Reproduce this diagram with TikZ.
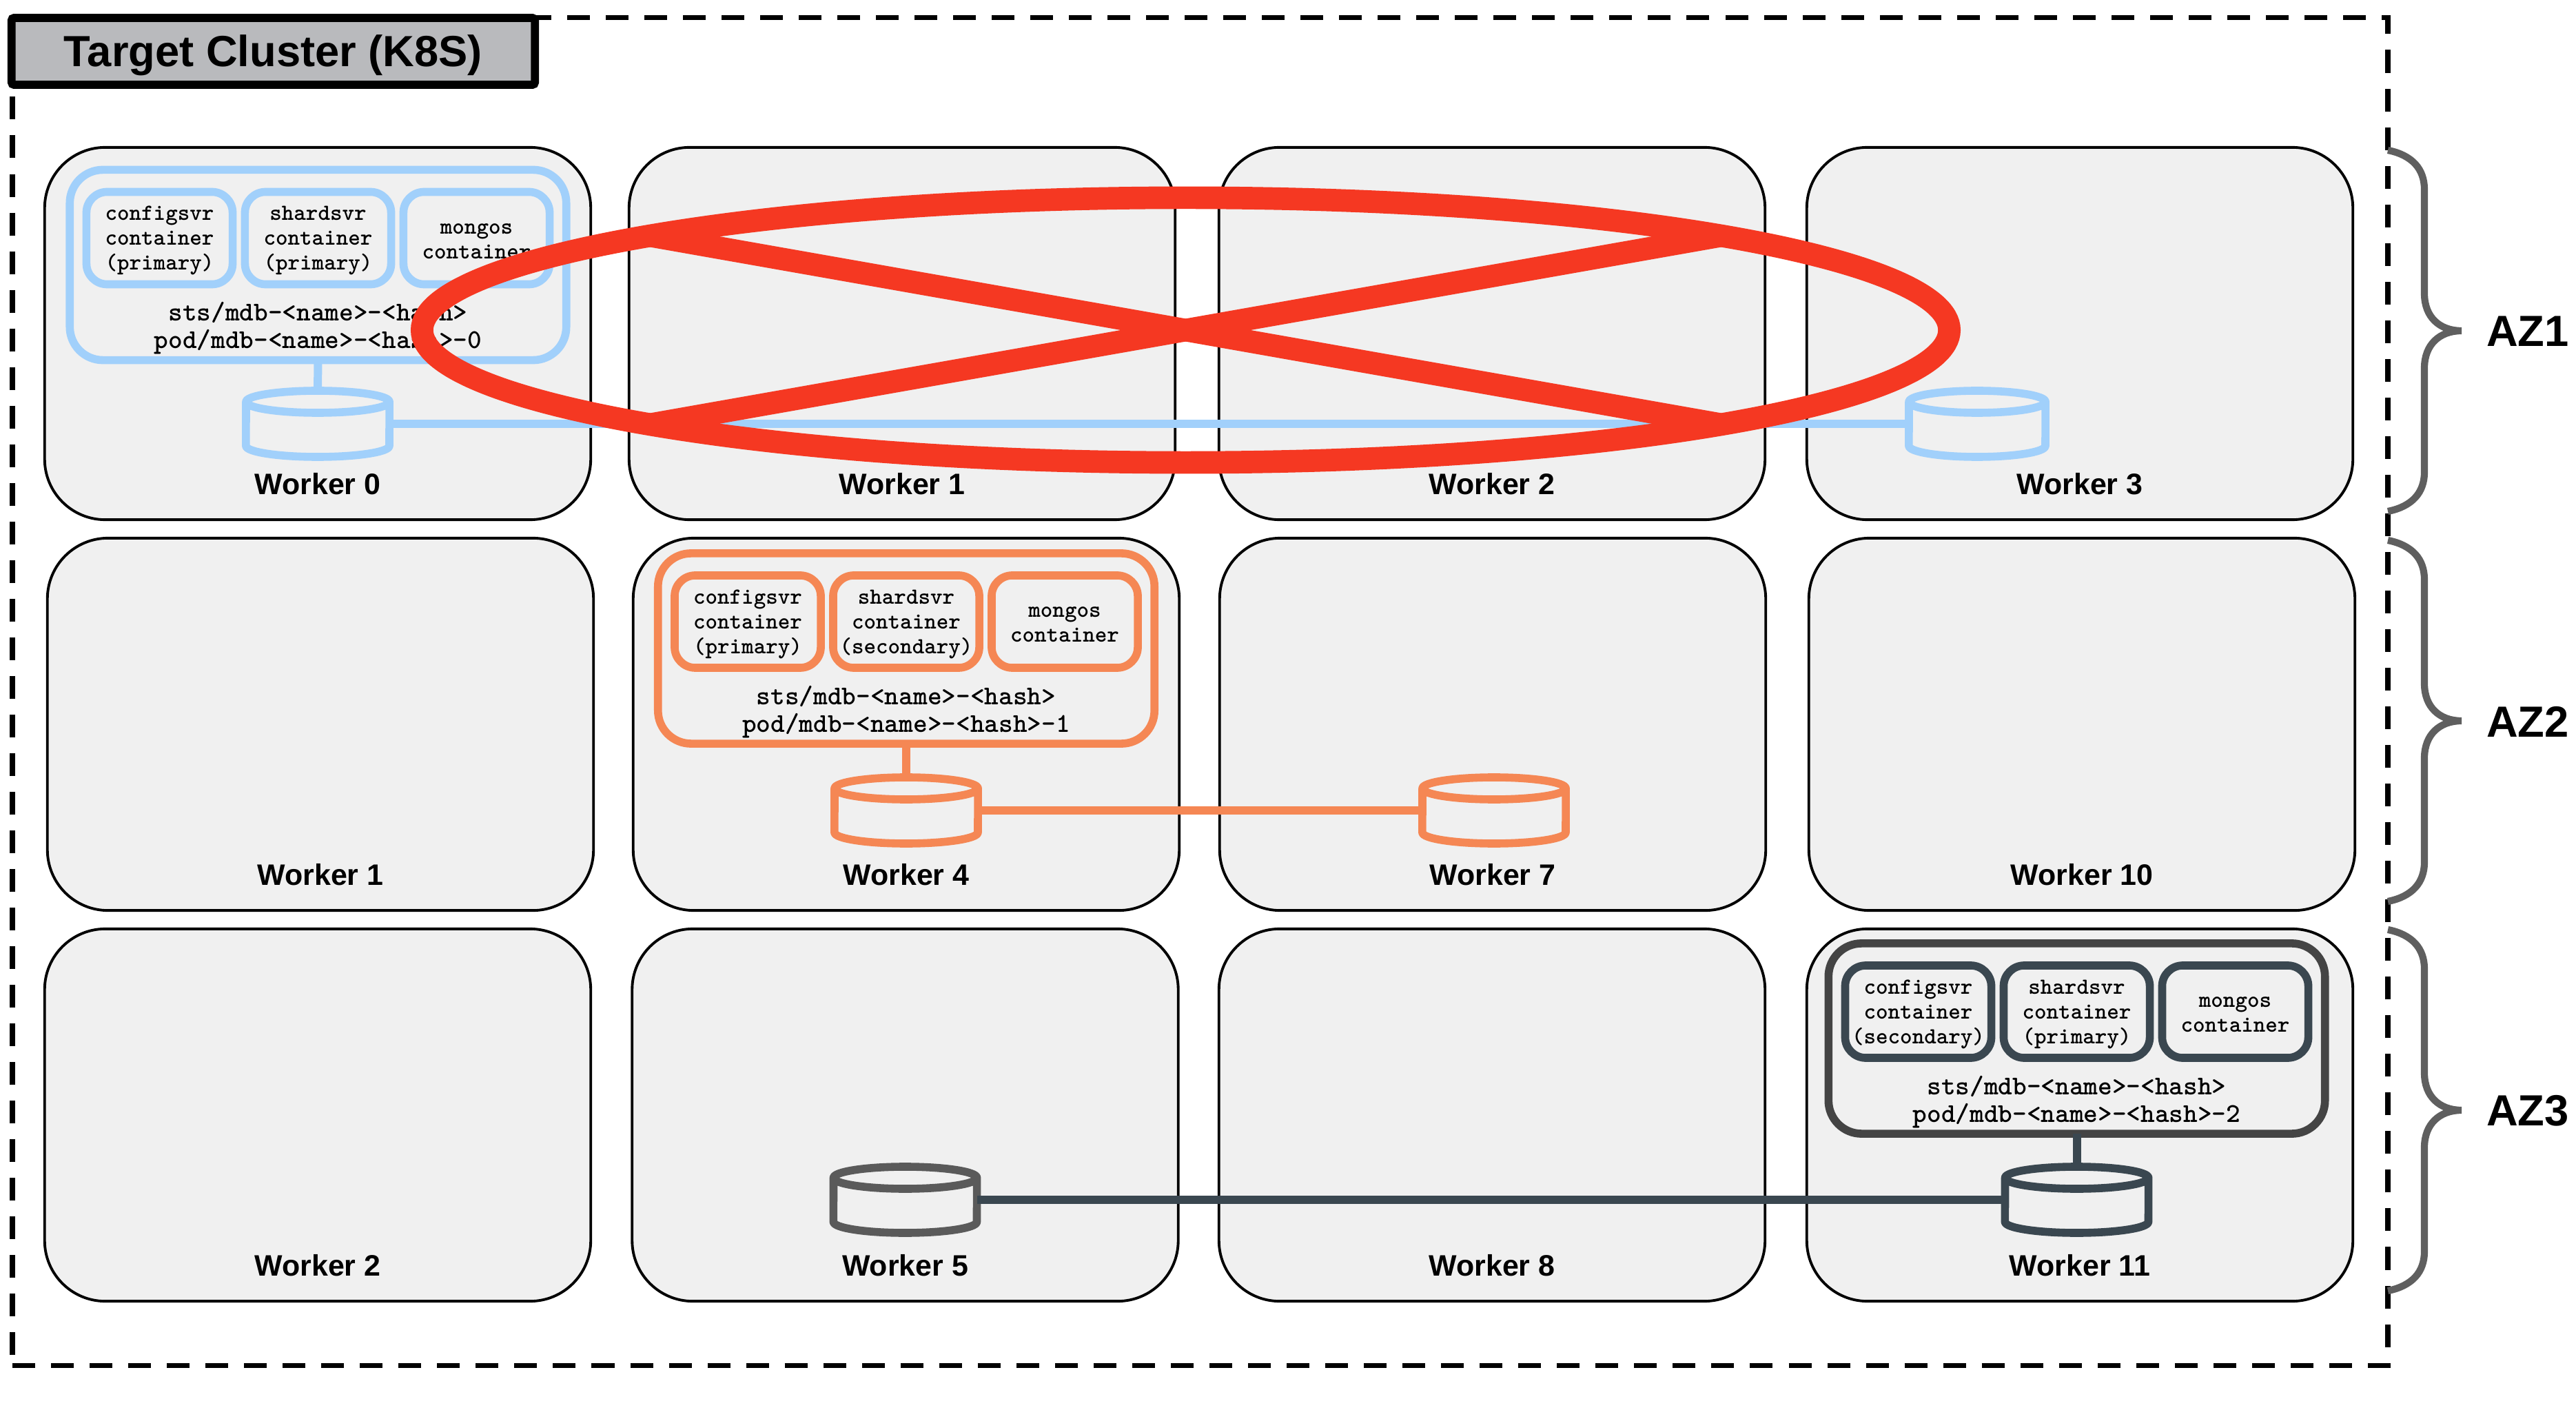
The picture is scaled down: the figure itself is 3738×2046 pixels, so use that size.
\documentclass[tikz,border=0pt]{standalone}
\usepackage{fontspec}
\setmainfont{Liberation Sans}
\usetikzlibrary{shapes.geometric}

\definecolor{azblue}{HTML}{A1D0FB}
\definecolor{azorange}{HTML}{F58754}
\definecolor{azslate}{HTML}{3A4750}
\definecolor{azdark}{HTML}{444444}
\definecolor{azgray}{HTML}{5A5A5A}
\definecolor{azbrace}{HTML}{5F5F5F}
\definecolor{crossred}{HTML}{F53822}
\definecolor{titlegray}{HTML}{B9BABD}

\tikzset{
	clusterbox/.style={draw,line width=2.2pt,dash pattern=on .33cm off .23cm,minimum width=34.45cm,minimum height=19.55cm,inner sep=0pt,outer sep=0pt},
	titlebox/.style={draw,fill=titlegray,line width=3.3pt,rounded corners=1pt,minimum width=7.59cm,minimum height=.97cm,inner sep=0pt,text height=12.8pt,text depth=0pt,font=\bfseries\fontsize{18}{20}\selectfont},
	workerbox/.style={draw,fill=black!6,line width=1.1pt,rounded corners=.88cm,minimum width=7.92cm,minimum height=5.4cm,inner sep=0pt},
	workerlabel/.style={inner sep=0pt,font=\bfseries\fontsize{12.2}{14}\selectfont},
	podbox/.style={draw,line width=3.3pt,rounded corners=.48cm,minimum width=7.2cm,minimum height=2.76cm,inner sep=0pt,outer sep=0pt},
	ctrbox/.style={draw,line width=3.3pt,rounded corners=.3cm,minimum width=2.12cm,minimum height=1.34cm,inner sep=0pt,align=center,text depth=0pt,font=\ttfamily\bfseries\fontsize{9.5}{10.2}\selectfont},
	podtext/.style={inner sep=0pt,align=center,font=\ttfamily\bfseries\fontsize{11.2}{11.4}\selectfont},
	diskbox/.style={minimum height=.95cm,inner sep=0pt,outer sep=0pt},
	diskline/.style={fill=black!6,line width=3.3pt,line join=round},
	link/.style={line width=3.4pt},
	azgroup/.style={draw=azbrace,line width=2.9pt},
	azlabel/.style={inner sep=0pt,font=\bfseries\fontsize{18}{20}\selectfont},
}

\begin{document}
\begin{tikzpicture}[x=.01cm,y=-.01cm]
	\useasboundingbox (0,0) rectangle (3738,2046);
	%Cluster
	\node[clusterbox] (cluster) at (1741.5,1003.5) {};
	\node[titlebox] (title) at (396.5,74.5) {Target Cluster (K8S)};
	%Workers
	\foreach \wid/\wx/\wy/\wnum in {w00/461/484/0,w01/1309/484/1,w02/2165/484/2,w03/3018/484/3,
		w10/465/1051/1,w11/1315/1051/4,w12/2166/1051/7,w13/3021/1051/10,
		w20/461/1618/2,w21/1313.5/1618/5,w22/2165/1618/8,w23/3018/1618/11}{
		\node[workerbox] (\wid) at (\wx,\wy) {};
		\node[workerlabel] (\wid label) at (\wx,\wy+218) {Worker \wnum};
	}
	%Pods
	\foreach \pid/\px/\py/\pcol/\ccol/\cfgrole/\shdrole/\pnum in {a/461.5/384.5/azblue/azblue/primary/primary/0,
		b/1315/941/azorange/azorange/primary/secondary/1,
		c/3013.5/1507/azdark/azslate/secondary/primary/2}{
		\node[podbox,draw=\pcol] (pod\pid) at (\px,\py) {};
		\node[ctrbox,draw=\ccol] (cfg\pid) at (\px-230,\py-39) {configsvr\\container\\(\cfgrole)};
		\node[ctrbox,draw=\ccol] (shd\pid) at (\px,\py-39) {shardsvr\\container\\(\shdrole)};
		\node[ctrbox,draw=\ccol,text height=16.8pt] (mgs\pid) at (\px+230,\py-39) {mongos\\container};
		\node[podtext] (name\pid) at (\px,\py+92) {sts/mdb-<name>-<hash>\\pod/mdb-<name>-<hash>-\pnum};
	}
	%Disks
	\foreach \did/\dx/\dy/\dcol/\drx in {diskw0/461/615/azblue/1.04,diskw3/2869/615/azblue/.99,
		diskw4/1315/1176/azorange/1.04,diskw7/2168/1176/azorange/1.04,
		diskw5/1313.5/1741/azgray/1.04,diskw11/3013.5/1741/azslate/1.04}{
		\node[diskbox,minimum width=2*\drx cm] (\did) at (\dx,\dy) {};
		\draw[diskline,draw=\dcol,shift={(\did.center)}] (-\drx*100,-32) arc[start angle=180,end angle=0,x radius=\drx cm,y radius=.16cm]
			-- (\drx*100,32) arc[start angle=360,end angle=180,x radius=\drx cm,y radius=.16cm] -- cycle
			(-\drx*100,-32) arc[start angle=180,end angle=360,x radius=\drx cm,y radius=.16cm];
	}
	%Links
	\draw[link,azblue] (poda.south) -- (diskw0.north);
	\draw[link,azblue] (diskw0.east) -- (diskw3.west);
	\draw[link,azorange] (podb.south) -- (diskw4.north);
	\draw[link,azorange] (diskw4.east) -- (diskw7.west);
	\draw[link,azslate] (podc.south) -- (diskw11.north);
	\draw[link,azslate] (diskw5.east) -- (diskw11.west);
	%AZ braces
	\foreach \zid/\zy in {1/480,2/1046,3/1611}{
		\draw[azgroup] (3465,\zy-262) .. controls (3500,\zy-255) and (3518,\zy-235) .. (3518,\zy-205)
			-- (3518,\zy-54) .. controls (3518,\zy-20) and (3540,\zy) .. (3572,\zy)
			.. controls (3540,\zy) and (3518,\zy+20) .. (3518,\zy+54)
			-- (3518,\zy+205) .. controls (3518,\zy+235) and (3500,\zy+255) .. (3465,\zy+262);
		\node[azlabel] (az\zid) at (3668,\zy+1) {AZ\zid};
	}
	%Red cross
	\node[draw=crossred,ellipse,line width=9.3pt,minimum width=22.15cm,minimum height=3.84cm,inner sep=0pt,outer sep=0pt] (failring) at (1720.5,479) {};
	\draw[crossred,line width=9.3pt] (failring.170) -- (failring.350);
	\draw[crossred,line width=9.3pt] (failring.10) -- (failring.190);
\end{tikzpicture}
\end{document}
